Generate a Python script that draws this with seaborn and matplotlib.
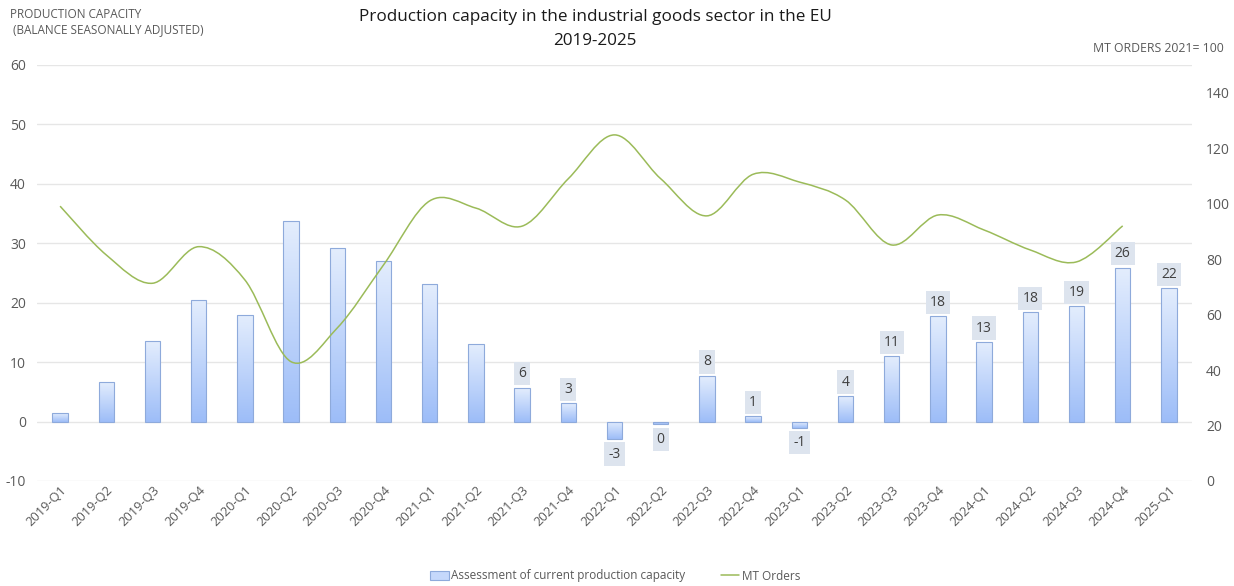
import numpy as np
import pandas as pd
import matplotlib
matplotlib.use("Agg")
import matplotlib.pyplot as plt
import seaborn as sns
from matplotlib.path import Path
from matplotlib.patches import PathPatch, Patch
from matplotlib.lines import Line2D
from matplotlib.colors import LinearSegmentedColormap

quarters = ["2019-Q1", "2019-Q2", "2019-Q3", "2019-Q4",
            "2020-Q1", "2020-Q2", "2020-Q3", "2020-Q4",
            "2021-Q1", "2021-Q2", "2021-Q3", "2021-Q4",
            "2022-Q1", "2022-Q2", "2022-Q3", "2022-Q4",
            "2023-Q1", "2023-Q2", "2023-Q3", "2023-Q4",
            "2024-Q1", "2024-Q2", "2024-Q3", "2024-Q4",
            "2025-Q1"]
capacity = [1.5, 6.6, 13.6, 20.4, 17.9, 33.8, 29.2, 27.0, 23.1, 13.0,
            5.7, 3.1, -2.9, -0.4, 7.7, 0.9, -1.0, 4.3, 11.0, 17.7,
            13.4, 18.4, 19.4, 25.9, 22.4]
capacity_labels = [None] * 10 + ["6", "3", "-3", "0", "8", "1", "-1", "4",
                                 "11", "18", "13", "18", "19", "26", "22"]
mt_orders = [99.1, 81.5, 71.3, 84.5, 72.5, 43.0, 55.2, 77.9, 101.0, 98.4,
             91.9, 109.0, 124.8, 109.0, 95.6, 110.6, 107.8, 101.3, 85.1, 95.9,
             90.5, 83.3, 79.0, 92.0, None]

sns.set_theme(style="white")
plt.rcParams['font.family'] = ['Open Sans', 'DejaVu Sans']
plt.rcParams['axes.unicode_minus'] = False

GRAY = "#595959"
fig = plt.figure(figsize=(12.34, 5.86), dpi=100)
ax = fig.add_axes([37/1234, 1 - 481/586, (1192-37)/1234, (481-65)/586])

df = pd.DataFrame({"quarter": quarters, "capacity": capacity})
sns.barplot(data=df, x="quarter", y="capacity", ax=ax, width=0.33,
            color="#c5d8fb", edgecolor="#8eaadb", linewidth=0.8, zorder=3)

# gradient fill on bars
cmap = LinearSegmentedColormap.from_list("g", ["#9dbdf8", "#e3edfd"])
grad = np.linspace(0, 1, 100).reshape(-1, 1)
for p in ax.patches:
    x0, y0 = p.get_x(), p.get_y()
    w, h = p.get_width(), p.get_height()
    ylo, yhi = min(y0, y0 + h), max(y0, y0 + h)
    p.set_facecolor("none")
    im = ax.imshow(grad, extent=[x0, x0 + w, ylo, yhi], origin="lower",
                   cmap=cmap, aspect="auto", zorder=2.5)
    im.set_clip_path(p)

ax.set_xlim(-0.5, len(quarters) - 0.5)
ax.set_ylim(-10, 60)
ax.set_yticks(range(-10, 61, 10))
ax.grid(axis="y", color="#e6e6e6", linewidth=1.0, zorder=0)
ax.grid(axis="x", visible=False)
for s in ax.spines.values():
    s.set_visible(False)
ax.set_xlabel("")
ax.set_ylabel("")
ax.tick_params(axis="y", colors=GRAY, labelsize=10, pad=8, length=0)
ax.tick_params(axis="x", colors=GRAY, labelsize=9.3, pad=2, length=0)
plt.setp(ax.get_xticklabels(), rotation=45, ha="right", rotation_mode="anchor")

# data labels
for i, (v, lab) in enumerate(zip(capacity, capacity_labels)):
    if lab is None:
        continue
    off = 10 if v >= 0 else -11
    ax.annotate(lab, (i, v), xytext=(0, off), textcoords="offset points",
                ha="center", va="center", fontsize=10, color="#404040",
                bbox=dict(boxstyle="square,pad=0.3", fc="#dde4ee", ec="none"),
                zorder=5)

# secondary axis with smoothed line
ax2 = ax.twinx()
ax2.set_ylim(0, 150)
ax2.set_yticks(range(0, 141, 20))
ax2.grid(False)
for s in ax2.spines.values():
    s.set_visible(False)
ax2.tick_params(axis="y", colors=GRAY, labelsize=10, pad=10, length=0)

xs = [i for i, v in enumerate(mt_orders) if v is not None]
ys = [v for v in mt_orders if v is not None]
pts = np.column_stack([xs, ys]).astype(float)
verts = [tuple(pts[0])]
codes = [Path.MOVETO]
n = len(pts)
for i in range(n - 1):
    p0 = pts[i - 1] if i > 0 else pts[i]
    p1 = pts[i]
    p2 = pts[i + 1]
    p3 = pts[i + 2] if i + 2 < n else pts[i + 1]
    c1 = p1 + (p2 - p0) / 6.0
    c2 = p2 - (p3 - p1) / 6.0
    verts += [tuple(c1), tuple(c2), tuple(p2)]
    codes += [Path.CURVE4] * 3
ax2.add_patch(PathPatch(Path(verts, codes), fc="none", ec="#9bbb59", lw=1.1, zorder=4))

# titles and axis captions
fig.text(595/1234, 1 - 17/586, "Production capacity in the industrial goods sector in the EU",
         ha="center", va="center", fontsize=12.3, color="#1a1a1a")
fig.text(595/1234, 1 - 41/586, "2019-2025", ha="center", va="center", fontsize=12.3, color="#1a1a1a")
fig.text(10/1234, 1 - 14/586, "PRODUCTION CAPACITY", ha="left", va="center", fontsize=8.5, color=GRAY)
fig.text(10/1234, 1 - 30/586, " (BALANCE SEASONALLY ADJUSTED)", ha="left", va="center", fontsize=8.5, color=GRAY)
fig.text(1224/1234, 1 - 48/586, "MT ORDERS 2021= 100", ha="right", va="center", fontsize=8.8, color=GRAY)

handles = [Patch(facecolor="#c5d8fb", edgecolor="#8eaadb", linewidth=0.8),
           Line2D([0], [0], color="#9bbb59", lw=1.1)]
fig.legend(handles, ["Assessment of current production capacity", "MT Orders"],
           loc="center", bbox_to_anchor=(615/1234, 1 - 576/586), ncol=2, frameon=False,
           fontsize=8.5, labelcolor=GRAY, handlelength=1.6, handletextpad=0.2,
           columnspacing=3.0)

fig.savefig("out.png", dpi=100)
